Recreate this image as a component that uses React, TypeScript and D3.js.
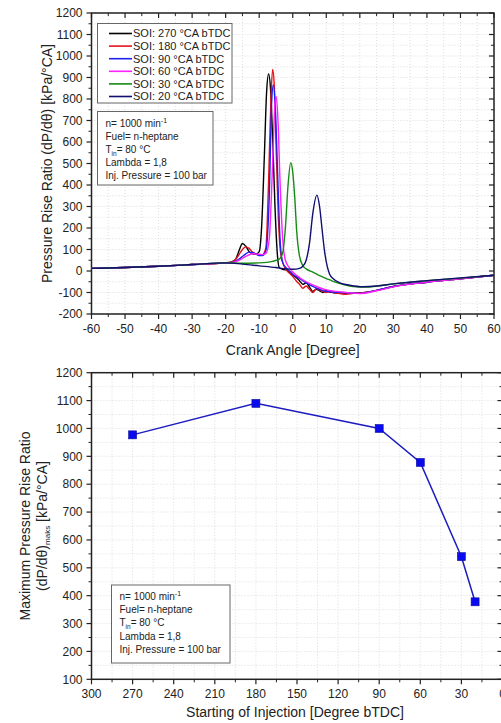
import React from 'react';
import * as d3 from 'd3';

const W = 501;
const H = 723;
const FONT = '"Liberation Sans", Arial, sans-serif';

// top chart: pressure rise ratio vs crank angle
const soi270 = [[-60,12],[-50,16],[-40,22],[-30,30],[-20,38],[-18,44],[-17,55],[-16,95],[-15,128],[-14,115],[-13,90],[-12,80],[-11,78],[-10,90],[-9.3,200],[-8.5,520],[-7.8,830],[-7.2,916],[-6.6,840],[-6,620],[-5.3,300],[-4.6,80],[-4,15],[-3,8],[-2,5],[-1,-5],[0,-20],[1,-30],[2,-45],[3,-62],[4,-55],[5,-75],[6,-95],[7,-85],[8,-92],[9,-100],[10,-90],[11,-98],[12,-100],[14,-104],[17,-104],[20,-102],[25,-90],[30,-72],[40,-52],[50,-36],[60,-20]];
const soi180 = [[-60,12],[-50,16],[-40,22],[-30,30],[-20,38],[-18,42],[-16.5,65],[-15,100],[-14,112],[-13,105],[-12,88],[-11,78],[-10,74],[-9,76],[-8,110],[-7.2,420],[-6.5,800],[-6,938],[-5.5,860],[-5,600],[-4.3,250],[-3.5,70],[-2.5,20],[-1,-10],[0,-25],[1,-45],[2,-62],[3,-80],[4,-70],[5,-85],[6,-100],[7,-82],[8,-88],[9,-95],[10,-100],[11,-96],[12,-100],[14,-105],[16,-108],[18,-104],[20,-102],[25,-90],[30,-72],[40,-52],[50,-36],[60,-20]];
const soi90 = [[-60,12],[-50,16],[-40,22],[-30,30],[-20,38],[-18,40],[-16,55],[-14,80],[-13,88],[-12,85],[-11,80],[-10,72],[-9,72],[-8,95],[-7,350],[-6.3,780],[-5.8,865],[-5.2,760],[-4.5,450],[-3.8,150],[-3,40],[-2,15],[-1,0],[0,-15],[2,-35],[4,-55],[6,-72],[8,-85],[10,-95],[12,-98],[15,-100],[20,-104],[25,-90],[30,-72],[40,-52],[50,-36],[60,-20]];
const soi60 = [[-60,12],[-50,16],[-40,22],[-30,30],[-20,38],[-18,40],[-16,50],[-14,68],[-12,80],[-10,78],[-9,76],[-8,82],[-7,150],[-6,500],[-5.3,780],[-4.9,811],[-4.4,700],[-3.8,420],[-3,150],[-2.2,50],[-1,15],[0,-5],[2,-30],[4,-50],[6,-65],[8,-78],[10,-88],[13,-95],[16,-100],[20,-105],[25,-92],[30,-74],[40,-52],[50,-36],[60,-20]];
const soi30 = [[-60,12],[-50,16],[-40,22],[-30,30],[-20,38],[-15,36],[-10,38],[-6,45],[-4,55],[-3,85],[-2.2,200],[-1.4,400],[-0.6,504],[0,460],[0.6,340],[1.2,180],[2,70],[3,25],[4,10],[6,-5],[8,-22],[10,-35],[12,-48],[15,-62],[18,-72],[22,-75],[25,-70],[30,-60],[40,-45],[50,-33],[60,-20]];
const soi20 = [[-60,12],[-50,16],[-40,22],[-30,30],[-20,38],[-15,32],[-10,24],[-5,16],[-2,10],[0,8],[2,12],[3,22],[4,50],[5,130],[6,270],[7.2,353],[8,300],[8.7,200],[9.5,90],[10.3,20],[11,-15],[12,-35],[14,-55],[17,-66],[21,-73],[25,-70],[30,-60],[40,-45],[50,-32],[60,-20]];

const seriesLabels = ['SOI: 270 °CA bTDC', 'SOI: 180 °CA bTDC', 'SOI: 90 °CA bTDC', 'SOI: 60 °CA bTDC', 'SOI: 30 °CA bTDC', 'SOI: 20 °CA bTDC'];
const seriesColors = ['#000000', '#e3141c', '#2020f0', '#ff20ff', '#168c16', '#10106e'];
const seriesData = [soi270, soi180, soi90, soi60, soi30, soi20];

// bottom chart: max pressure rise ratio vs start of injection
const soiAngles = [270, 180, 90, 60, 30, 20];
const maxRise = [977, 1090, 1000, 878, 540, 378];

const infoLines = ['n= 1000 min', 'Fuel= n-heptane', 'T', 'Lambda = 1,8', 'Inj. Pressure = 100 bar'];

const top = { l: 91.5, r: 494, t: 13, b: 314 };
const bot = { l: 91.5, r: 502.5, t: 372.7, b: 679.3 };

function Frame({ box, xs, ys, xMajor, xMinor, yMajor, yMinor }: any) {
  const gridX = [...xMajor, ...xMinor];
  const gridY = [...yMajor, ...yMinor];
  return (
    <g>
      {gridX.map((v: number, i: number) => (
        <line key={'gx' + i} x1={xs(v)} x2={xs(v)} y1={box.t} y2={box.b} stroke="#d4d4d4" strokeWidth={0.8} strokeDasharray="1,2" />
      ))}
      {gridY.map((v: number, i: number) => (
        <line key={'gy' + i} x1={box.l} x2={box.r} y1={ys(v)} y2={ys(v)} stroke="#d4d4d4" strokeWidth={0.8} strokeDasharray="1,2" />
      ))}
      {/* ticks */}
      {xMajor.map((v: number, i: number) => (
        <g key={'xt' + i}>
          <line x1={xs(v)} x2={xs(v)} y1={box.b} y2={box.b + 5} stroke="#222" strokeWidth={1.2} />
          <line x1={xs(v)} x2={xs(v)} y1={box.t} y2={box.t + 5} stroke="#222" strokeWidth={1.2} />
          <text x={xs(v)} y={box.b + 19} fontSize={12} textAnchor="middle" fill="#222" fontFamily={FONT}>{v}</text>
        </g>
      ))}
      {xMinor.map((v: number, i: number) => (
        <g key={'xm' + i}>
          <line x1={xs(v)} x2={xs(v)} y1={box.b} y2={box.b + 3} stroke="#222" strokeWidth={1} />
          <line x1={xs(v)} x2={xs(v)} y1={box.t} y2={box.t + 3} stroke="#222" strokeWidth={1} />
        </g>
      ))}
      {yMajor.map((v: number, i: number) => (
        <g key={'yt' + i}>
          <line x1={box.l - 5} x2={box.l} y1={ys(v)} y2={ys(v)} stroke="#222" strokeWidth={1.2} />
          <line x1={box.r - 5} x2={box.r} y1={ys(v)} y2={ys(v)} stroke="#222" strokeWidth={1.2} />
          <text x={box.l - 9} y={ys(v) + 4.2} fontSize={12} textAnchor="end" fill="#222" fontFamily={FONT}>{v}</text>
        </g>
      ))}
      {yMinor.map((v: number, i: number) => (
        <g key={'ym' + i}>
          <line x1={box.l - 3} x2={box.l} y1={ys(v)} y2={ys(v)} stroke="#222" strokeWidth={1} />
          <line x1={box.r - 3} x2={box.r} y1={ys(v)} y2={ys(v)} stroke="#222" strokeWidth={1} />
        </g>
      ))}
      <rect x={box.l} y={box.t} width={box.r - box.l} height={box.b - box.t} fill="none" stroke="#222" strokeWidth={1.5} />
    </g>
  );
}

function InfoBox({ x, y, w, h }: any) {
  const step = 13.2;
  const y0 = y + 15;
  return (
    <g fontFamily={FONT} fontSize={10} fill="#222">
      <rect x={x} y={y} width={w} height={h} fill="#fff" stroke="#666" strokeWidth={1} />
      <text x={x + 8} y={y0}>{infoLines[0]}<tspan dy={-4} fontSize={7}>-1</tspan></text>
      <text x={x + 8} y={y0 + step}>{infoLines[1]}</text>
      <text x={x + 8} y={y0 + step * 2}>{infoLines[2]}<tspan dy={3} fontSize={6.5}>in</tspan><tspan dy={-3}>= 80 °C</tspan></text>
      <text x={x + 8} y={y0 + step * 3}>{infoLines[3]}</text>
      <text x={x + 8} y={y0 + step * 4}>{infoLines[4]}</text>
    </g>
  );
}

export default function App() {
  const x1 = d3.scaleLinear().domain([-60, 60]).range([top.l, top.r]);
  const y1 = d3.scaleLinear().domain([-200, 1200]).range([top.b, top.t]);
  const x2 = d3.scaleLinear().domain([300, 0]).range([bot.l, bot.r]);
  const y2 = d3.scaleLinear().domain([100, 1200]).range([bot.b, bot.t]);

  const line1 = d3.line<number[]>().x(d => x1(d[0])).y(d => y1(d[1])).curve(d3.curveMonotoneX);
  const line2 = d3.line<number>().x((d, i) => x2(soiAngles[i])).y(d => y2(d));

  const x1Major = d3.range(-60, 61, 10);
  const x1Minor = d3.range(-55, 60, 10);
  const y1Major = d3.range(-200, 1201, 100);
  const y1Minor = d3.range(-150, 1200, 100);
  const x2Major = d3.range(0, 301, 30);
  const x2Minor = d3.range(15, 300, 30);
  const y2Major = d3.range(100, 1201, 100);
  const y2Minor = d3.range(150, 1200, 100);

  return (
    <svg width={W} height={H} style={{ position: 'absolute', left: 0, top: 0, background: '#fff' }}>
      <rect width={W} height={H} fill="#fff" />
      {/* top chart */}
      <Frame box={top} xs={x1} ys={y1} xMajor={x1Major} xMinor={x1Minor} yMajor={y1Major} yMinor={y1Minor} />
      <g>
        {seriesData.map((s, i) => (
          <path key={i} d={line1(s) || ''} fill="none" stroke={seriesColors[i]} strokeWidth={1.4} />
        ))}
      </g>
      <g fontFamily={FONT} fontSize={11} fill="#222">
        <rect x={97.5} y={23.5} width={134.5} height={79.5} fill="#fff" stroke="#666" strokeWidth={1} />
        {seriesLabels.map((lab, i) => (
          <g key={i}>
            <line x1={109} x2={132} y1={33.5 + i * 12.6} y2={33.5 + i * 12.6} stroke={seriesColors[i]} strokeWidth={1.6} />
            <text x={133} y={33.5 + i * 12.6 + 3.9}>{lab}</text>
          </g>
        ))}
      </g>
      <InfoBox x={97.5} y={111.5} w={115.5} h={73.5} />
      <text x={(top.l + top.r) / 2} y={355} fontSize={14} textAnchor="middle" fill="#222" fontFamily={FONT}>Crank Angle [Degree]</text>
      <text transform={`translate(52, ${(top.t + top.b) / 2}) rotate(-90)`} fontSize={14} textAnchor="middle" fill="#222" fontFamily={FONT}>Pressure Rise Ratio (dP/dθ) [kPa/°CA]</text>

      {/* bottom chart */}
      <Frame box={bot} xs={x2} ys={y2} xMajor={x2Major} xMinor={x2Minor} yMajor={y2Major} yMinor={y2Minor} />
      <path d={line2(maxRise) || ''} fill="none" stroke="#1c1cc0" strokeWidth={1.5} />
      {maxRise.map((v, i) => (
        <rect key={i} x={x2(soiAngles[i]) - 4} y={y2(v) - 4} width={8} height={8} fill="#0a0aee" stroke="#1010a0" strokeWidth={0.6} />
      ))}
      <InfoBox x={111.5} y={585} w={118.5} h={78} />
      <text x={(bot.l + 502.5) / 2 - 2} y={717} fontSize={14} textAnchor="middle" fill="#222" fontFamily={FONT}>Starting of Injection [Degree bTDC]</text>
      <g transform={`translate(0, ${(bot.t + bot.b) / 2})`} fontSize={14} textAnchor="middle" fill="#222" fontFamily={FONT}>
        <text transform="translate(30, 0) rotate(-90)">Maximum Pressure Rise Ratio</text>
        <text transform="translate(47, 0) rotate(-90)">(dP/dθ)<tspan dy={3} fontSize={8}>maks</tspan><tspan dy={-3}> [kPa/°CA]</tspan></text>
      </g>
    </svg>
  );
}
